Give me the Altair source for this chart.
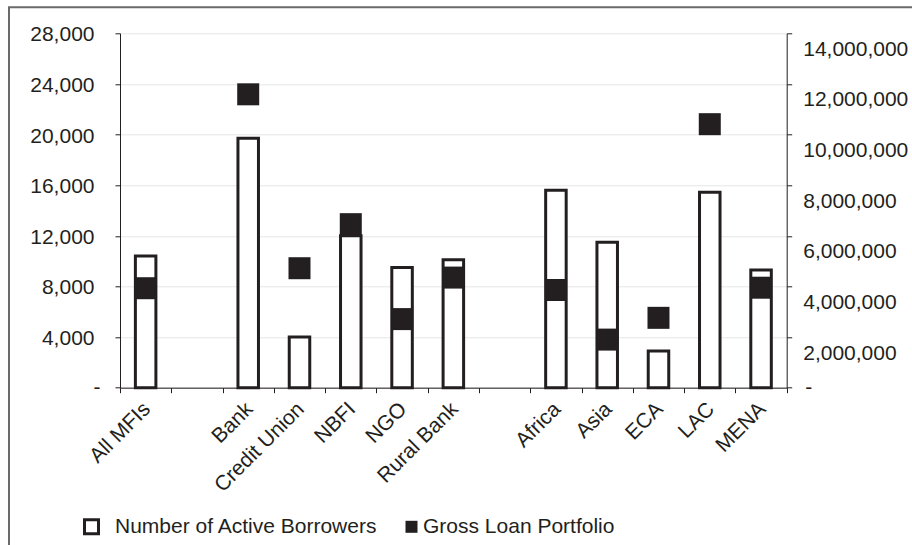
import altair as alt
import pandas as pd

# Category slots along the x axis; the two blank entries leave empty gaps
categories = ["All MFIs", " ", "Bank", "Credit Union", "NBFI", "NGO", "Rural Bank",
              "  ", "Africa", "Asia", "ECA", "LAC", "MENA"]
groups = ["All MFIs", "Bank", "Credit Union", "NBFI", "NGO", "Rural Bank",
          "Africa", "Asia", "ECA", "LAC", "MENA"]
active_borrowers = [10400, 19700, 4000, 12000, 9500, 10100, 15600, 11500, 2900, 15450, 9300]
gross_loan_portfolio = [3930000, 11590000, 4720000, 6460000, 2710000, 4350000,
                        3860000, 1900000, 2760000, 10410000, 3950000]
borrower_ticks = [0, 4000, 8000, 12000, 16000, 20000, 24000, 28000]
portfolio_ticks = [0, 2000000, 4000000, 6000000, 8000000, 10000000, 12000000, 14000000]
series_names = ["Number of Active Borrowers", "Gross Loan Portfolio"]

INK = "#231f20"
FONT = "Liberation Sans"
FONT_SIZE = 21

df = pd.DataFrame({
    "group": groups,
    "borrowers": active_borrowers,
    "portfolio": gross_loan_portfolio,
    "s_borrowers": series_names[0],
    "s_portfolio": series_names[1],
})

x_enc = alt.X(
    "group:N",
    scale=alt.Scale(domain=categories, paddingInner=0, paddingOuter=0),
    axis=alt.Axis(
        title=None, labelAngle=-45, labelAlign="right", labelBaseline="middle",
        tickBand="extent", tickSize=5, labelPadding=13, labelOffset=1,
        domainColor=INK, tickColor=INK,
    ),
)

zero_label = "datum.value == 0 ? '-' : format(datum.value, ',')"

left_axis = alt.Axis(
    orient="left", title=None, values=borrower_ticks, labelExpr=zero_label,
    grid=True, gridColor="#e6e6e6", gridWidth=1, tickSize=5,
    labelPadding={"condition": {"test": "datum.value == 0", "value": 15}, "value": 21},
    labelOffset={"condition": {"test": "datum.value == 0", "value": 0}, "value": 1.5},
)
right_axis = alt.Axis(
    orient="right", title=None, values=portfolio_ticks, labelExpr=zero_label,
    grid=False, tickSize=5,
    labelPadding={"condition": {"test": "datum.value == 0", "value": 13}, "value": 11},
    labelOffset={"condition": {"test": "datum.value == 0", "value": 0}, "value": 16},
)

# Outer frame around the whole figure
frame = alt.Chart(pd.DataFrame({"k": [0]})).mark_rect(
    fill="transparent", stroke="#6a6a6a", strokeWidth=2
).encode(
    x=alt.value(-111), x2=alt.value(830), y=alt.value(-26), y2=alt.value(560)
)

bars = alt.Chart(df).mark_bar(
    stroke=INK, strokeWidth=3, width=alt.RelativeBandSize(0.4)
).encode(
    x=x_enc,
    y=alt.Y("borrowers:Q", scale=alt.Scale(domain=[0, 28000], nice=False), axis=left_axis),
    fill=alt.Fill(
        "s_borrowers:N",
        scale=alt.Scale(domain=[series_names[0]], range=["white"]),
        legend=alt.Legend(
            title=None, orient="none", legendX=-39, legendY=483, padding=0,
            symbolType="square", symbolSize=196, symbolStrokeColor=INK,
            symbolStrokeWidth=3, labelOffset=13, labelLimit=400,
        ),
    ),
)

points = alt.Chart(df).mark_square(size=484, filled=True, opacity=1).encode(
    x=x_enc,
    y=alt.Y("portfolio:Q", scale=alt.Scale(domain=[0, 14000000], nice=False), axis=right_axis),
    color=alt.Color(
        "s_portfolio:N",
        scale=alt.Scale(domain=[series_names[1]], range=[INK]),
        legend=alt.Legend(
            title=None, orient="none", legendX=281, legendY=483, padding=0,
            symbolType="square", symbolSize=144, symbolStrokeWidth=0,
            labelOffset=1, labelLimit=400,
        ),
    ),
)

chart = alt.layer(frame, bars, points).resolve_scale(
    y="independent"
).properties(
    width=666.7, height=354.4,
    autosize=alt.AutoSizeParams(type="none"),
    padding={"left": 120, "top": 33.3, "right": 125.3, "bottom": 157.3},
    background="white",
).configure_view(
    stroke="transparent"
).configure_axis(
    labelFont=FONT, labelFontSize=FONT_SIZE, labelColor=INK,
    domainColor=INK, tickColor=INK, domainWidth=1, tickWidth=1,
).configure_legend(
    labelFont=FONT, labelFontSize=FONT_SIZE, labelColor=INK,
)

chart.save("out.html", embed_options={"renderer": "svg", "actions": False})
